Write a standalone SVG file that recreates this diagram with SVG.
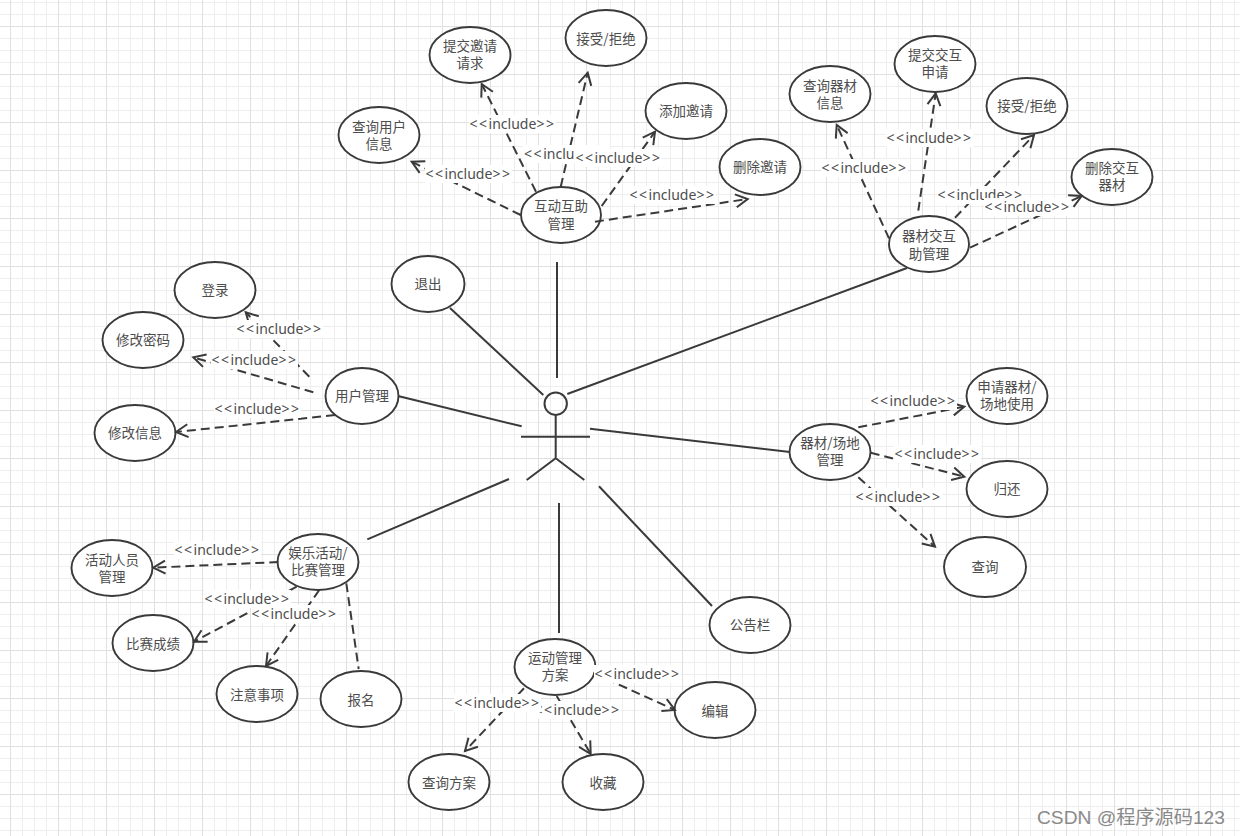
<svg xmlns="http://www.w3.org/2000/svg" width="1240" height="836" viewBox="0 0 1240 836">
<style>
.n{fill:#fff;stroke:#3a3a3a;stroke-width:1.9}
.t{font-family:"Noto Sans CJK SC","Noto Sans",sans-serif;font-size:13.5px;fill:#4d4d4d;text-anchor:middle}
.s{fill:none;stroke:#3a3a3a;stroke-width:2}
.d{fill:none;stroke:#3a3a3a;stroke-width:2;stroke-dasharray:9 5}
.a{marker-end:url(#open)}
.b{fill:#fff}
.l{font-family:"Noto Sans",sans-serif;font-size:14px;fill:#4d4d4d;text-anchor:middle}
.c{letter-spacing:1.6px}
</style>
<defs>
<pattern id="grid" width="48" height="48" patternUnits="userSpaceOnUse" patternTransform="translate(10 2)">
<path d="M12.5 0V48M24.5 0V48M36.5 0V48M0 .5H48M0 12.5H48M0 36.5H48" fill="none" stroke="#eeeeee"/>
<path d="M.5 0V48M0 24.5H48" fill="none" stroke="#e0e0e0"/>
</pattern>
<marker id="open" markerUnits="userSpaceOnUse" markerWidth="20" markerHeight="20" refX="14" refY="10" orient="auto" overflow="visible">
<path d="M2 3.5L14 10L2 16.5" fill="none" stroke="#3a3a3a" stroke-width="2"/>
</marker>
</defs>
<rect width="1240" height="836" fill="#fff"/>
<rect width="1240" height="836" fill="url(#grid)"/>

<g id="actor" class="s">
<circle cx="555.7" cy="403.7" r="11.2"/>
<path d="M555.7 415V458.3M521 436.7H590M526.7 480L555.7 458.3L584.3 480"/>
</g>

<g id="n-hudong"><ellipse class="n" cx="561" cy="215" rx="40" ry="28"/><text class="t" x="561" y="211">互动互助</text><text class="t" x="561" y="229">管理</text></g>
<g id="n-chaxunyonghu"><ellipse class="n" cx="379" cy="135" rx="40.5" ry="28"/><text class="t" x="379" y="132">查询用户</text><text class="t" x="379" y="149">信息</text></g>
<g id="n-tijiaoyaoqing"><ellipse class="n" cx="470" cy="55" rx="40.5" ry="28"/><text class="t" x="470" y="51">提交邀请</text><text class="t" x="470" y="68">请求</text></g>
<g id="n-jieshou1"><ellipse class="n" cx="606" cy="38" rx="40.5" ry="28"/><text class="t" x="606" y="44">接受/拒绝</text></g>
<g id="n-tianjia"><ellipse class="n" cx="686" cy="111" rx="40.5" ry="28"/><text class="t" x="686" y="116">添加邀请</text></g>
<g id="n-shanchuyaoqing"><ellipse class="n" cx="760" cy="167" rx="40.5" ry="28"/><text class="t" x="760" y="172">删除邀请</text></g>

<g id="n-qicaijiaohu"><ellipse class="n" cx="929" cy="244" rx="40" ry="28"/><text class="t" x="929" y="241">器材交互</text><text class="t" x="929" y="259">助管理</text></g>
<g id="n-chaxunqicai"><ellipse class="n" cx="830" cy="94" rx="40.5" ry="28"/><text class="t" x="830" y="91">查询器材</text><text class="t" x="830" y="108">信息</text></g>
<g id="n-tijiaojiaohu"><ellipse class="n" cx="935" cy="64" rx="40.5" ry="28"/><text class="t" x="935" y="60">提交交互</text><text class="t" x="935" y="77">申请</text></g>
<g id="n-jieshou2"><ellipse class="n" cx="1027" cy="106" rx="40.5" ry="28"/><text class="t" x="1027" y="111">接受/拒绝</text></g>
<g id="n-shanchujiaohu"><ellipse class="n" cx="1112" cy="177" rx="40.5" ry="28"/><text class="t" x="1112" y="173">删除交互</text><text class="t" x="1112" y="190">器材</text></g>

<g id="n-tuichu"><ellipse class="n" cx="428" cy="284" rx="36.5" ry="28"/><text class="t" x="428" y="289">退出</text></g>
<g id="n-yonghu"><ellipse class="n" cx="362" cy="396" rx="36.5" ry="28"/><text class="t" x="362" y="401">用户管理</text></g>
<g id="n-denglu"><ellipse class="n" cx="215" cy="290" rx="40.5" ry="28"/><text class="t" x="215" y="295">登录</text></g>
<g id="n-xiugaimima"><ellipse class="n" cx="143" cy="340" rx="40.5" ry="28"/><text class="t" x="143" y="345">修改密码</text></g>
<g id="n-xiugaixinxi"><ellipse class="n" cx="135" cy="433" rx="40.5" ry="28"/><text class="t" x="135" y="438">修改信息</text></g>

<g id="n-qicaichangdi"><ellipse class="n" cx="830" cy="452" rx="40.5" ry="28"/><text class="t" x="830" y="448">器材/场地</text><text class="t" x="830" y="465">管理</text></g>
<g id="n-shenqing"><ellipse class="n" cx="1007" cy="396" rx="40.5" ry="28"/><text class="t" x="1007" y="392">申请器材/</text><text class="t" x="1007" y="409">场地使用</text></g>
<g id="n-guihuan"><ellipse class="n" cx="1007" cy="489" rx="40.5" ry="28"/><text class="t" x="1007" y="494">归还</text></g>
<g id="n-chaxun"><ellipse class="n" cx="985" cy="567" rx="41" ry="30"/><text class="t" x="985" y="572">查询</text></g>

<g id="n-yule"><ellipse class="n" cx="318" cy="562" rx="40.5" ry="28"/><text class="t" x="318" y="558">娱乐活动/</text><text class="t" x="318" y="575">比赛管理</text></g>
<g id="n-huodong"><ellipse class="n" cx="112" cy="568" rx="40.5" ry="28"/><text class="t" x="112" y="565">活动人员</text><text class="t" x="112" y="582">管理</text></g>
<g id="n-bisai"><ellipse class="n" cx="153" cy="643" rx="40.5" ry="28"/><text class="t" x="153" y="649">比赛成绩</text></g>
<g id="n-zhuyi"><ellipse class="n" cx="257" cy="694" rx="40.5" ry="28"/><text class="t" x="257" y="700">注意事项</text></g>
<g id="n-baoming"><ellipse class="n" cx="361" cy="699" rx="40.5" ry="28"/><text class="t" x="361" y="705">报名</text></g>

<g id="n-yundong"><ellipse class="n" cx="555" cy="667" rx="40.5" ry="28"/><text class="t" x="555" y="663">运动管理</text><text class="t" x="555" y="680">方案</text></g>
<g id="n-chaxunfangan"><ellipse class="n" cx="449" cy="782" rx="40.5" ry="28"/><text class="t" x="449" y="788">查询方案</text></g>
<g id="n-shoucang"><ellipse class="n" cx="603" cy="782" rx="40.5" ry="28"/><text class="t" x="603" y="788">收藏</text></g>
<g id="n-bianji"><ellipse class="n" cx="715" cy="710" rx="40.5" ry="28"/><text class="t" x="715" y="716">编辑</text></g>
<g id="n-gonggao"><ellipse class="n" cx="750" cy="625" rx="40.5" ry="28"/><text class="t" x="750" y="630">公告栏</text></g>

<g id="connectors">
<g class="s">
<path d="M557 262V378"/>
<path d="M450 308L543.3 395"/>
<path d="M907 268L567.3 394"/>
<path d="M398 396L521.7 426.3"/>
<path d="M790 452L590 428.7"/>
<path d="M367.3 539.3L509 479"/>
<path d="M559 503V633"/>
<path d="M712 606L599 486.3"/>
</g>
<g class="d">
<path class="a" d="M520.7 215L411.7 161.7"/>
<path class="a" d="M536 191.7L481.7 84"/>
<path class="a" d="M560.7 186.7L587.7 72.7"/>
<path class="a" d="M601.7 206L655 131.7"/>
<path class="a" d="M595 221.7L747.7 199"/>
<path class="a" d="M889 238.3L836.7 125"/>
<path class="a" d="M918.3 210.7L935.7 93.3"/>
<path class="a" d="M955 217.7L1034 135"/>
<path class="a" d="M970 247.7L1081.7 196"/>
<path class="a" d="M309.3 376.7L245.7 312.3"/>
<path class="a" d="M313.3 392.3L193.3 357.3"/>
<path class="a" d="M335 415L176 432"/>
<path class="a" d="M278.3 562L153.3 567.7"/>
<path class="a" d="M296.7 586.7L194 641.7"/>
<path class="a" d="M319.3 590L266 666"/>
<path d="M346.3 583.3L358.7 669"/>
<path class="a" d="M524 688.3L465 751"/>
<path class="a" d="M556.7 696L590.7 754"/>
<path class="a" d="M593.3 673L675 710"/>
<path class="a" d="M858.3 427.3L964.3 406.7"/>
<path class="a" d="M870.7 452.7L964.3 476.7"/>
<path class="a" d="M858.3 477.3L935 546.7"/>
</g>
<g id="labels">
<rect class="b" x="425" y="165" width="87" height="18"/><text class="l" x="468.500" y="179"><tspan class="c">&lt;&lt;</tspan>include<tspan class="c">&gt;&gt;</tspan></text>
<rect class="b" x="469" y="115" width="87" height="18"/><text class="l" x="512.500" y="129"><tspan class="c">&lt;&lt;</tspan>include<tspan class="c">&gt;&gt;</tspan></text>
<rect class="b" x="523" y="145" width="87" height="18"/><text class="l" x="524" y="159" style="text-anchor:start"><tspan class="c">&lt;&lt;</tspan>inclu</text>
<rect class="b" x="575" y="149" width="87" height="18"/><text class="l" x="618.500" y="163"><tspan class="c">&lt;&lt;</tspan>include<tspan class="c">&gt;&gt;</tspan></text>
<rect class="b" x="629" y="186" width="87" height="18"/><text class="l" x="672.500" y="200"><tspan class="c">&lt;&lt;</tspan>include<tspan class="c">&gt;&gt;</tspan></text>
<rect class="b" x="821" y="159" width="87" height="18"/><text class="l" x="864.500" y="173"><tspan class="c">&lt;&lt;</tspan>include<tspan class="c">&gt;&gt;</tspan></text>
<rect class="b" x="886" y="129" width="87" height="18"/><text class="l" x="929.500" y="143"><tspan class="c">&lt;&lt;</tspan>include<tspan class="c">&gt;&gt;</tspan></text>
<rect class="b" x="937" y="186" width="87" height="18"/><text class="l" x="980.500" y="200"><tspan class="c">&lt;&lt;</tspan>include<tspan class="c">&gt;&gt;</tspan></text>
<rect class="b" x="984" y="198" width="87" height="18"/><text class="l" x="1027.500" y="212"><tspan class="c">&lt;&lt;</tspan>include<tspan class="c">&gt;&gt;</tspan></text>
<rect class="b" x="236" y="320" width="87" height="18"/><text class="l" x="279.500" y="334"><tspan class="c">&lt;&lt;</tspan>include<tspan class="c">&gt;&gt;</tspan></text>
<rect class="b" x="211" y="351" width="87" height="18"/><text class="l" x="254.500" y="365"><tspan class="c">&lt;&lt;</tspan>include<tspan class="c">&gt;&gt;</tspan></text>
<rect class="b" x="214" y="400" width="87" height="18"/><text class="l" x="257.500" y="414"><tspan class="c">&lt;&lt;</tspan>include<tspan class="c">&gt;&gt;</tspan></text>
<rect class="b" x="174" y="541" width="87" height="18"/><text class="l" x="217.500" y="555"><tspan class="c">&lt;&lt;</tspan>include<tspan class="c">&gt;&gt;</tspan></text>
<rect class="b" x="204" y="590" width="87" height="18"/><text class="l" x="247.500" y="604"><tspan class="c">&lt;&lt;</tspan>include<tspan class="c">&gt;&gt;</tspan></text>
<rect class="b" x="251" y="605" width="87" height="18"/><text class="l" x="294.500" y="619"><tspan class="c">&lt;&lt;</tspan>include<tspan class="c">&gt;&gt;</tspan></text>
<rect class="b" x="534" y="701" width="87" height="18"/><text class="l" x="577.500" y="715"><tspan class="c">&lt;&lt;</tspan>include<tspan class="c">&gt;&gt;</tspan></text>
<rect class="b" x="454" y="694" width="87" height="18"/><text class="l" x="497.500" y="708"><tspan class="c">&lt;&lt;</tspan>include<tspan class="c">&gt;&gt;</tspan></text>
<rect class="b" x="594" y="665" width="87" height="18"/><text class="l" x="637.500" y="679"><tspan class="c">&lt;&lt;</tspan>include<tspan class="c">&gt;&gt;</tspan></text>
<rect class="b" x="870" y="392" width="87" height="18"/><text class="l" x="913.500" y="406"><tspan class="c">&lt;&lt;</tspan>include<tspan class="c">&gt;&gt;</tspan></text>
<rect class="b" x="894" y="445" width="87" height="18"/><text class="l" x="937.500" y="459"><tspan class="c">&lt;&lt;</tspan>include<tspan class="c">&gt;&gt;</tspan></text>
<rect class="b" x="855" y="488" width="87" height="18"/><text class="l" x="898.500" y="502"><tspan class="c">&lt;&lt;</tspan>include<tspan class="c">&gt;&gt;</tspan></text>
</g>
</g>
<text x="1037" y="824" font-family="'Liberation Sans','Noto Sans CJK SC',sans-serif" font-size="19.2" fill="#8a8a8a">CSDN @程序源码123</text>
</svg>
